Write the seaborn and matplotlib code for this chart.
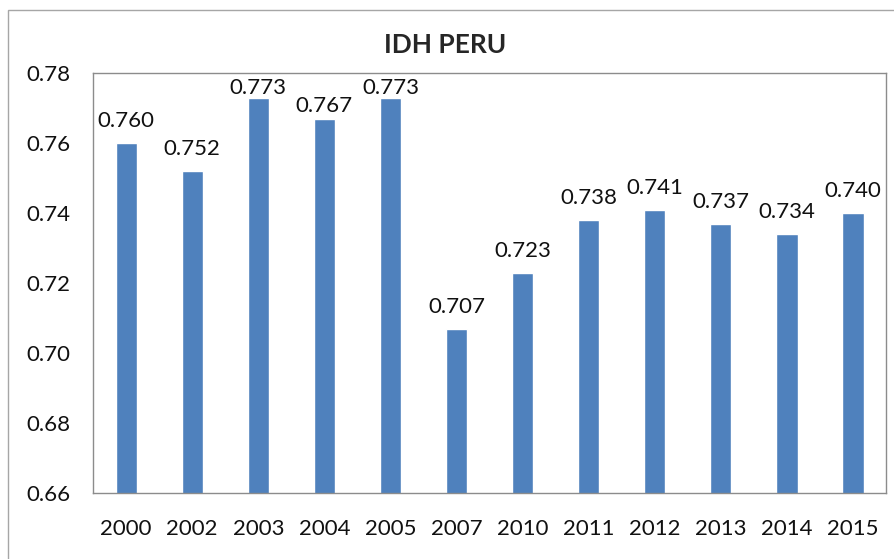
import pandas as pd
import seaborn as sns
import matplotlib.pyplot as plt
from matplotlib.patches import Rectangle

anios = ['2000', '2002', '2003', '2004', '2005', '2007', '2010', '2011', '2012', '2013', '2014', '2015']
idh = [0.760, 0.752, 0.773, 0.767, 0.773, 0.707, 0.723, 0.738, 0.741, 0.737, 0.734, 0.740]

df = pd.DataFrame({'Año': anios, 'IDH': idh})

sns.set_style('white')
plt.rcParams['font.family'] = ['Lato', 'DejaVu Sans']

fig = plt.figure(figsize=(8.95, 5.59), dpi=100)
ax = fig.add_axes([0.104, 0.118, 0.886, 0.751])

sns.barplot(data=df, x='Año', y='IDH', color='#4F81BD', saturation=1, width=0.32, ax=ax)

# etiquetas de datos (las más altas quedan apretadas contra el borde superior)
for i, v in enumerate(idh):
    off = 8.5 if v < 0.765 else (2 if v < 0.770 else -0.5)
    ax.annotate(f'{v:.3f}', (i, v), xytext=(0, off), textcoords='offset points',
                ha='center', va='bottom', fontsize=16, color='#111111')

ax.set_ylim(0.66, 0.78)
ax.set_yticks([0.66, 0.68, 0.70, 0.72, 0.74, 0.76, 0.78])
ax.set_yticklabels([f'{t:.2f}' for t in ax.get_yticks()])
ax.set_xlim(-0.5, len(anios) - 0.5)
ax.tick_params(axis='both', labelsize=16, length=0, colors='#111111')
ax.tick_params(axis='x', pad=19)
ax.tick_params(axis='y', pad=16.5)
ax.set_xlabel('')
ax.set_ylabel('')
for s in ax.spines.values():
    s.set_color('#8c8c8c')
    s.set_linewidth(1)

fig.text(0.497, 0.92, 'IDH PERU', ha='center', va='center', fontsize=19, fontweight='bold')

fig.patches.append(Rectangle((8 / 895, -0.05), 1.0, 1 - 10 / 559 + 0.05, transform=fig.transFigure,
                             fill=False, edgecolor='#a6a6a6', linewidth=1))

fig.savefig('out.png', dpi=100)
